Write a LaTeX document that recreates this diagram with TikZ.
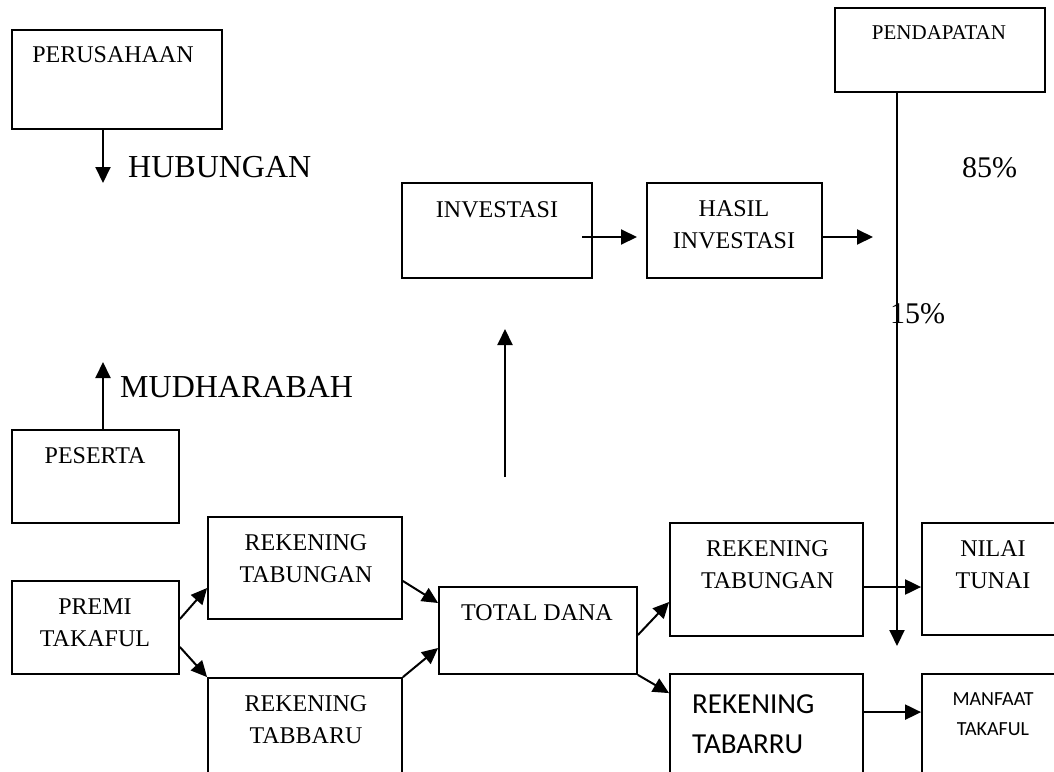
\documentclass[tikz,border=0pt]{standalone}
\usepackage{fontspec}
\setmainfont{Liberation Serif}
\newfontfamily\calib{Carlito}
\usetikzlibrary{arrows.meta}
\begin{document}
\begin{tikzpicture}[x=1pt,y=-1pt,
  box/.style={draw,line width=1.8pt,rectangle,inner sep=0pt},
  arr/.style={line width=2pt,-{Triangle[length=16pt,width=15pt]}},
  lbl/.style={inner sep=0pt,anchor=base,align=center,font=\fontsize{24}{32}\selectfont},
  big/.style={inner sep=0pt,anchor=base west,font=\fontsize{32}{36}\selectfont}]
\useasboundingbox (0,0) rectangle (1054,771);
\clip (0,0) rectangle (1054,771);
% boxes
\node[box,minimum width=210pt,minimum height=99pt] (pers) at (117,79.5) {};
\node[box,minimum width=210pt,minimum height=84pt] (pend) at (940,50) {};
\node[box,minimum width=190pt,minimum height=95pt] (inv) at (497,230.5) {};
\node[box,minimum width=175pt,minimum height=95pt] (hasil) at (734.5,230.5) {};
\node[box,minimum width=167pt,minimum height=93pt] (pes) at (95.5,476.5) {};
\node[box,minimum width=167pt,minimum height=93pt] (premi) at (95.5,627.5) {};
\node[box,minimum width=194pt,minimum height=102pt] (rt1) at (305,568) {};
\node[box,minimum width=194pt,minimum height=120pt] (rtb1) at (305,738) {};
\node[box,minimum width=198pt,minimum height=87pt] (td) at (538,630.5) {};
\node[box,minimum width=193pt,minimum height=113pt] (rt2) at (766.5,579.5) {};
\node[box,minimum width=193pt,minimum height=120pt] (rtb2) at (766.5,734) {};
\node[box,minimum width=144pt,minimum height=112pt] (nilai) at (994,579) {};
\node[box,minimum width=144pt,minimum height=120pt] (manf) at (994,734) {};
% texts (base = baseline of last line)
\node[lbl] (tpers) at (113,62) {PERUSAHAAN};
\node[lbl,font=\fontsize{21}{25}\selectfont] (tpend) at (939,39) {PENDAPATAN};
\node[lbl] (tinv) at (497,217) {INVESTASI};
\node[lbl] (thasil) at (734,248) {HASIL\\INVESTASI};
\node[lbl] (tpes) at (95,463) {PESERTA};
\node[lbl] (tpremi) at (95,646) {PREMI\\TAKAFUL};
\node[lbl] (trt1) at (306,582) {REKENING\\TABUNGAN};
\node[lbl] (trtb1) at (306,743) {REKENING\\TABBARU};
\node[lbl] (ttd) at (537,620) {TOTAL DANA};
\node[lbl] (trt2) at (767.5,588) {REKENING\\TABUNGAN};
\node[lbl] (tnilai) at (993,588) {NILAI\\TUNAI};
\node[inner sep=0pt,anchor=base west,align=left,font=\calib\fontsize{29}{40}\selectfont] (trtb2) at (692,753) {REKENING\\TABARRU};
\node[inner sep=0pt,anchor=base,align=center,font=\calib\fontsize{20}{30}\selectfont] (tmanf) at (993,735) {MANFAAT\\TAKAFUL};
\node[big] (thub) at (128,177) {HUBUNGAN};
\node[big] (tmud) at (120,397) {MUDHARABAH};
\node[big,font=\fontsize{30}{34}\selectfont] (t85) at (962,177) {85\%};
\node[big,font=\fontsize{30}{34}\selectfont] (t15) at (890,323) {15\%};
% free ends
\coordinate (hubEnd) at (103,183);
\coordinate (mudEnd) at (103,362);
\coordinate (invA) at (582,237);
\coordinate (invB) at (637,237);
\coordinate (hasEnd) at (873,237);
\coordinate (midA) at (505,477);
\coordinate (midB) at (505,329);
\coordinate (pendEnd) at (897,646);
% connectors
\draw[arr] (pers.south -| hubEnd) -- (hubEnd);
\draw[arr] (pes.north -| mudEnd) -- (mudEnd);
\draw[arr] (invA) -- (invB);
\draw[arr] (hasil.east |- hasEnd) -- (hasEnd);
\draw[arr] (midA) -- (midB);
\draw[arr] (pend.south -| pendEnd) -- (pendEnd);
\draw[arr] ([yshift=8.5pt]premi.east) -- ([yshift=-20pt]rt1.west);
\draw[arr] ([yshift=-19.5pt]premi.east) -- (rtb1.north west);
\draw[arr] ([yshift=-13pt]rt1.east) -- ([yshift=27.5pt]td.west);
\draw[arr] (rtb1.north east) -- ([yshift=-17.5pt]td.west);
\draw[arr] ([yshift=-4.5pt]td.east) -- ([yshift=-22.5pt]rt2.west);
\draw[arr] (td.south east) -- ([yshift=-20pt]rtb2.north west);
\draw[arr] ([yshift=-7.5pt]rt2.east) -- ([yshift=-8pt]nilai.west);
\draw[arr] ([yshift=-39pt]rtb2.north east) -- ([yshift=-39pt]manf.north west);
\end{tikzpicture}
\end{document}
